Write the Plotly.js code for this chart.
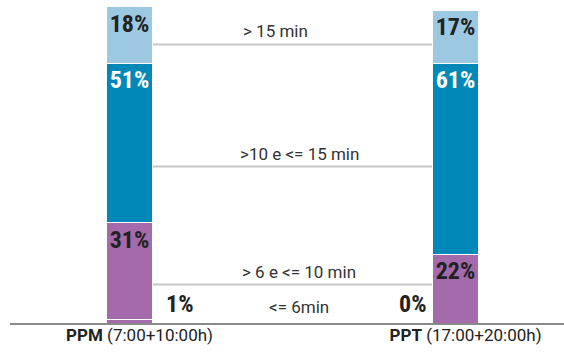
<!DOCTYPE html>
<html>
<head>
<meta charset="utf-8">
<script src="https://cdn.plot.ly/plotly-3.0.1.min.js"></script>
<style>html,body{margin:0;padding:0;background:#fff}#chart{width:564px;height:354px}</style>
</head>
<body>
<div id="chart"></div>
<script>
// ---- data ----
const periods = [0, 1];
const periodLabels = ["<b>PPM</b> (7:00+10:00h)", "<b>PPT</b> (17:00+20:00h)"];
const seriesNames = ["<= 6min", "> 6 e <= 10 min", ">10 e <= 15 min", "> 15 min"];
const le6 = [1, 0];
const from6to10 = [31, 22];
const from10to15 = [51, 61];
const over15 = [18, 17];
const seriesValues = [le6, from6to10, from10to15, over15];
const seriesColors = ["#a46aac", "#a46aac", "#0089b8", "#9cc8e1"];
const textColors = ["#222", "#222", "#ffffff", "#222"];
const guideLevels = [0, 12.3, 50, 89];  // grey connector lines between the bars

const BW = 0.144;
const fontMain = "Roboto, 'Liberation Sans', sans-serif";
const fontPct = "'Liberation Sans Narrow', 'Roboto Condensed', Roboto, sans-serif";

const traces = seriesValues.map((vals, i) => ({
  type: "bar",
  x: periods,
  y: vals,
  name: seriesNames[i],
  width: BW,
  marker: {color: seriesColors[i], line: {color: "#ffffff", width: 1}},
  text: i === 0 ? null : vals.map(v => v + "%"),
  textposition: i === 0 ? "none" : "inside",
  insidetextanchor: "end",
  textangle: 0,
  constraintext: "none",
  textfont: {family: fontPct, size: 24, color: textColors[i], weight: "bold"},
  hoverinfo: "skip"
}));

const shapes = guideLevels.slice(1).map(lv => ({
  type: "line", xref: "x", yref: "y",
  x0: periods[0] + BW / 2, x1: periods[1] - BW / 2, y0: lv, y1: lv,
  line: {color: "#c8c8c8", width: 2}
}));

const labelShift = [6.5, 6.5, 6.5, -17.5];
const annotations = seriesNames.map((n, i) => ({
  xref: "x", yref: "y", x: 0.5, y: guideLevels[i], xshift: labelShift[i], yshift: i === 0 ? 4 : 1,
  text: n.replace(/</g, "&lt;"), showarrow: false, yanchor: "bottom",
  font: {family: fontMain, size: 17, color: "#333"}
}));
// small-value labels for the "<= 6min" segment
annotations.push({
  xref: "x", yref: "y", x: periods[0] + BW / 2, y: 0, xshift: 11, yshift: 3,
  xanchor: "left", yanchor: "bottom", showarrow: false,
  text: "<b>" + le6[0] + "%</b>", font: {family: fontPct, size: 24, color: "#222"}
});
annotations.push({
  xref: "x", yref: "y", x: periods[1] - BW / 2, y: 0, xshift: -4, yshift: 3,
  xanchor: "right", yanchor: "bottom", showarrow: false,
  text: "<b>" + le6[1] + "%</b>", font: {family: fontPct, size: 24, color: "#222"}
});

const layout = {
  width: 564, height: 354,
  margin: {l: 10, r: 0, t: 0, b: 31},
  paper_bgcolor: "#fff", plot_bgcolor: "#fff",
  barmode: "stack",
  showlegend: false,
  xaxis: {
    range: [-0.3666, 1.3328],
    tickvals: periods, ticktext: periodLabels,
    ticks: "", showgrid: false, zeroline: false,
    showline: true, linecolor: "#8a8a8a", linewidth: 2,
    ticklabelshift: 10, ticklabelstandoff: -4,
    tickfont: {family: fontMain, size: 17, color: "#222"}
  },
  yaxis: {
    range: [0, 103.2], visible: false, showgrid: false, zeroline: false
  },
  shapes: shapes,
  annotations: annotations
};

Plotly.newPlot("chart", traces, layout, {staticPlot: true, displayModeBar: false});
</script>
</body>
</html>
